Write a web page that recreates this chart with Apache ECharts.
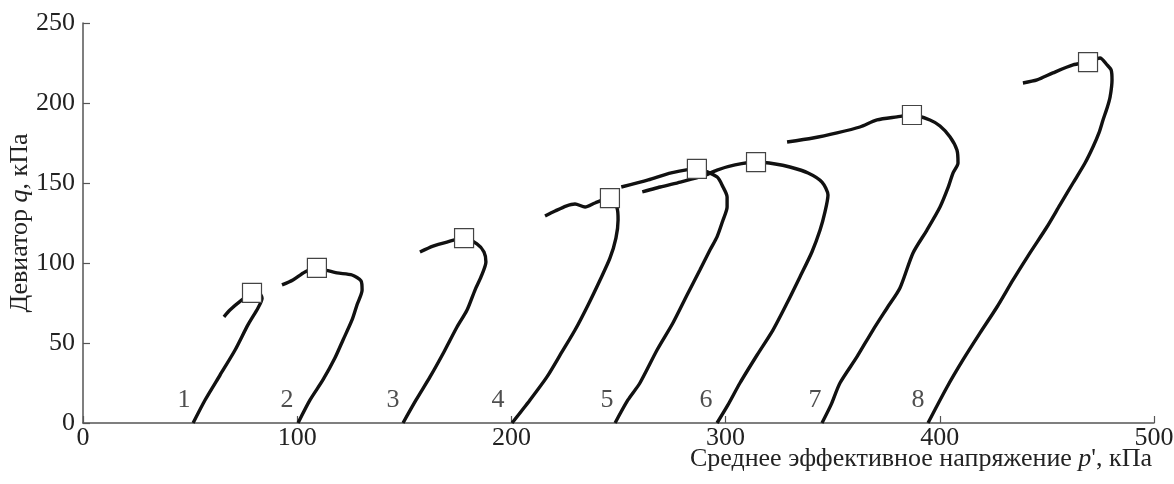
<!DOCTYPE html>
<html>
<head>
<meta charset="utf-8">
<script src="https://cdn.jsdelivr.net/npm/echarts@6/dist/echarts.min.js"></script>
<style>
html,body{margin:0;padding:0;background:#fff;}
#c{width:1174px;height:484px;}
</style>
</head>
<body>
<div id="c"></div>
<script>
// Path data: [p', q] pairs (kPa) for each test 1..8
const curve1 = [[51.4,0],[57.0,14.4],[64.0,30],[71.0,45.6],[77.0,61.3],[81.7,71.9],[83.6,78],[81.7,81.9],[78.9,81.3],[74.2,76.9],[68.6,70.6],[65.8,66.3]];
const curve2 = [[100.4,0],[106,14.4],[112,26.9],[117.6,40.6],[121.4,51.9],[125.6,64.4],[127.9,73.8],[130.3,83.1],[129.8,88.8],[125.6,92.5],[118.6,93.8],[113,95.6],[109.2,96.9],[103.6,94.4],[98,89.4],[92.9,86.3]];
const curve3 = [[149.4,0],[155.5,14.4],[162,28.8],[168.5,44.4],[174.6,60],[179.3,70.6],[183,83.1],[185.8,91.3],[188.1,100.6],[187.2,106.9],[183.9,111.9],[177.9,115.6],[169.9,113.1],[163.4,110.6],[157.3,106.9]];
const curve4 = [[200.3,0],[208.7,14.4],[216.6,28.8],[223.6,44.4],[229.7,58.1],[235.8,73.8],[241.4,89.4],[246,103],[248.8,115.6],[249.8,126.9],[249.3,134.4],[246,140.6],[239,137.5],[234.4,135],[229.7,136.9],[225.5,135.6],[220.4,132.5],[215.7,129.4]];
const curve5 = [[248.4,0],[254.4,14.4],[260,25],[268,45.6],[275.4,62.5],[282,80],[288,95.6],[292.7,108.1],[296,116.3],[298.8,126.9],[300.7,135],[300.7,141.3],[298.8,147.5],[296,153.8],[286.6,158.8],[274.6,156.3],[263.9,151.9],[251.3,147.5]];
const curve6 = [[296,0],[301.1,11.3],[306.7,25],[314.7,42.5],[322.1,58.1],[328.7,75],[334.7,91.3],[340.3,106.9],[344.1,120.6],[346.4,131.9],[347.8,142.5],[345,150.6],[338.5,156.3],[330,160],[323.2,161.9],[314.2,163.1],[304.4,161.3],[296,158.1],[289.6,154.4],[278.9,150.6],[269.5,147.5],[261.1,144.4]];
const curve7 = [[345,0],[349.2,11.3],[353.4,25],[361.3,41.3],[368.8,58.1],[375.4,71.9],[381.4,84.4],[387.5,106.3],[394,120.6],[400.1,135],[403.8,146.9],[406.2,156.3],[408.5,162.5],[408,170.6],[404.8,178.8],[400.1,185.6],[395.4,189.4],[387,192.5],[380,191.3],[370.7,189.4],[362.7,185],[352,181.3],[340.8,178.1],[328.7,175.6]];
const curve8 = [[394.5,0],[403.4,22.5],[410.8,39.4],[418.8,56.3],[426.7,72.5],[434.2,89.4],[442.1,106.3],[450,122.5],[456.1,136.3],[462.2,150],[467.8,162.5],[471.5,172.5],[474.3,181.3],[476.2,189.4],[478.1,196.9],[479.5,203.8],[480.4,214.4],[480,220.6],[478.1,223.8],[474.8,228.1],[469.2,225.6],[462.2,223.8],[452.8,218.8],[445.4,214.4],[438.8,212.5]];
const curves = [curve1, curve2, curve3, curve4, curve5, curve6, curve7, curve8];

// Peak (failure) points shown as open squares
const peakP = [78.9, 109.2, 177.9, 246, 286.6, 314.2, 387, 469.2];
const peakQ = [81.3, 96.9, 115.6, 140.6, 158.8, 163.1, 192.5, 225.6];

// Curve number labels
const labelNames = ['1','2','3','4','5','6','7','8'];
const labelP = [47.2, 95.2, 144.7, 193.7, 244.6, 290.8, 341.7, 389.8];
const labelQ = [14.4, 14.4, 14.4, 14.4, 14.4, 14.4, 14.4, 14.4];

// Axis ticks
const xTicks = [0, 100, 200, 300, 400, 500];
const yTicks = [0, 50, 100, 150, 200, 250];

const FONT = '"Liberation Serif", "DejaVu Serif", serif';
const FS = 26;

const series = curves.map(c => ({
  type: 'line',
  data: c,
  showSymbol: false,
  smooth: 0.25,
  lineStyle: { color: '#111', width: 3.4 },
  z: 2
}));
series.push({
  type: 'scatter',
  data: peakP.map((p, i) => [p, peakQ[i]]),
  symbol: 'rect',
  symbolSize: 19,
  itemStyle: { color: '#fff', borderColor: '#444', borderWidth: 1.2, opacity: 1 },
  z: 5
});
series.push({
  type: 'scatter',
  data: labelP.map((p, i) => ({ value: [p, labelQ[i]], name: labelNames[i] })),
  symbolSize: 1,
  itemStyle: { color: 'rgba(0,0,0,0)' },
  label: {
    show: true, position: 'inside', formatter: '{b}',
    fontFamily: FONT, fontSize: FS, color: '#222'
  },
  z: 4
});

const chart = echarts.init(document.getElementById('c'), null, { renderer: 'canvas' });
chart.setOption({
  animation: false,
  backgroundColor: '#fff',
  grid: { left: 83, right: 20, top: 23, bottom: 61, containLabel: false, outerBoundsMode: 'none' },
  xAxis: {
    type: 'value', min: xTicks[0], max: xTicks[xTicks.length - 1], interval: 100,
    axisLine: { show: true, lineStyle: { color: '#555', width: 1.5 } },
    axisTick: { show: true, inside: true, length: 7, lineStyle: { color: '#555', width: 1.2 } },
    splitLine: { show: false },
    axisLabel: { fontFamily: FONT, fontSize: FS, color: '#222', margin: 2 }
  },
  yAxis: {
    type: 'value', min: yTicks[0], max: yTicks[yTicks.length - 1], interval: 50,
    name: 'Девиатор {i|q}, кПа',
    nameLocation: 'middle', nameGap: 50, nameMoveOverlap: false,
    nameTextStyle: {
      fontFamily: FONT, fontSize: FS, color: '#222',
      rich: { i: { fontFamily: FONT, fontSize: FS, fontStyle: 'italic', color: '#222' } }
    },
    axisLine: { show: true, lineStyle: { color: '#555', width: 1.5 } },
    axisTick: { show: true, inside: true, length: 7, lineStyle: { color: '#555', width: 1.2 } },
    splitLine: { show: false },
    axisLabel: { fontFamily: FONT, fontSize: FS, color: '#222', margin: 8 }
  },
  graphic: [{
    type: 'text',
    right: 22, top: 446,
    style: {
      text: 'Среднее эффективное напряжение {i|p}\', кПа',
      font: FS + 'px ' + FONT,
      fill: '#222',
      rich: { i: { fontFamily: FONT, fontSize: FS, fontStyle: 'italic', fill: '#222' } }
    }
  }],
  series: series
});
</script>
</body>
</html>
